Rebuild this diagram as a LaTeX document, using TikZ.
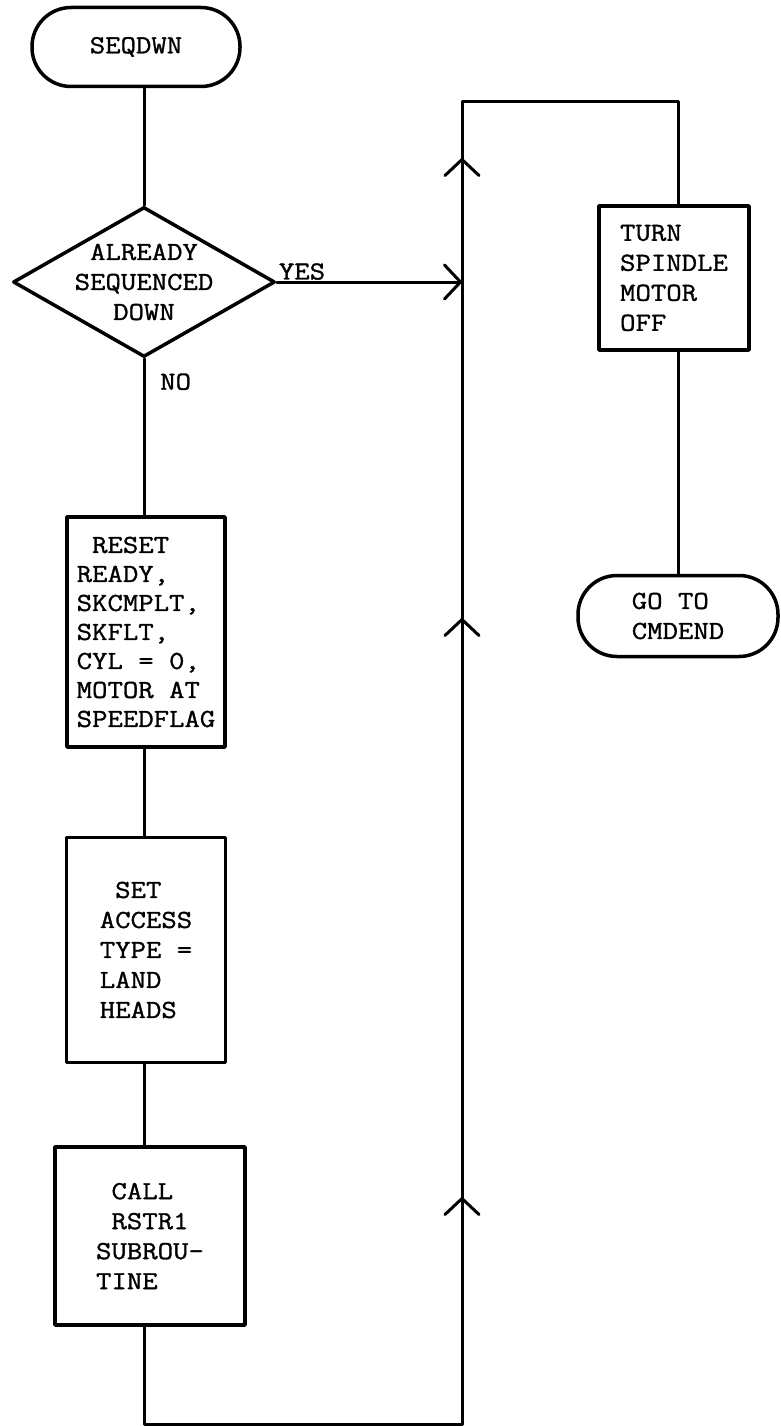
\documentclass[tikz,border=0pt]{standalone}
\usepackage{fontspec}
\newfontfamily\flowfont{Latin Modern Mono}[FakeStretch=1.15, FakeBold=1.2]
\usetikzlibrary{shapes.geometric,arrows.meta}

\tikzset{
  flowline/.style={line width=3pt, line cap=round, line join=round},
  flowtip/.style={flowline, -{Straight Barb[length=16pt,width=34pt,round]}},
  box/.style={draw, line width=3.5pt, line join=round, inner sep=0pt, align=left,
    font=\flowfont\fontsize{26}{30}\selectfont},
  terminal/.style={box, rounded corners=39pt},
  decision/.style={box, diamond, inner xsep=-40pt, inner ysep=-30pt, align=center},
  flowlabel/.style={font=\flowfont\fontsize{26}{30}\selectfont, inner sep=2pt}
}

\begin{document}
\begin{tikzpicture}[x=1pt,y=-1pt]
  \useasboundingbox (0,0) rectangle (780,1426);
  % left column
  \node[terminal, minimum width=208pt, minimum height=79pt] (seqdwn) at (136,47) {SEQDWN};
  \node[decision, minimum width=262pt, minimum height=150pt] (already) at (144,282) {ALREADY\\SEQUENCED\\DOWN};
  \node[box, minimum width=158pt, minimum height=230pt, font=\flowfont\fontsize{26}{29}\selectfont] (reset) at (146,632)
    {\hphantom{X}RESET\\READY,\\SKCMPLT,\\SKFLT,\\CYL = 0,\\MOTOR AT\\SPEEDFLAG};
  \node[box, minimum width=159pt, minimum height=225pt] (setacc) at (146,950)
    {\hphantom{X}SET\\ACCESS\\TYPE =\\LAND\\HEADS};
  \node[box, minimum width=190pt, minimum height=178pt] (callrst) at (150,1236)
    {\hphantom{X}CALL\\\hphantom{X}RSTR1\\SUBROU-\\TINE};
  % right column
  \node[box, minimum width=150pt, minimum height=144pt] (turnoff) at (674,278)
    {TURN\\SPINDLE\\MOTOR\\OFF};
  \node[terminal, minimum width=200pt, minimum height=81pt] (cmdend) at (678,616)
    {GO TO\\CMDEND};
  % return loop
  \coordinate (bend1) at (462,1424);
  \coordinate (bend2) at (462,102);
  \coordinate (bend3) at (678,102);
  \coordinate (chevlow) at (462,1197);
  \coordinate (chevmid) at (462,618);
  \coordinate (chevtop) at (462,158);

  \draw[flowline] (seqdwn.south -| already.north) -- (already.north);
  \draw[flowline] (already.south) -- (already.south |- reset.north);
  \draw[flowline] (reset.south -| already.south) -- (already.south |- setacc.north);
  \draw[flowline] (setacc.south -| already.south) -- (already.south |- callrst.north);
  \draw[flowline] (callrst.south -| already.south) |- (bend1) -- (bend2) -- (bend3) -- (bend3 |- turnoff.north);
  \draw[flowline] (turnoff.south -| bend3) -- (bend3 |- cmdend.north);
  \draw[flowtip] (bend1) -- (chevlow);
  \draw[flowtip] (chevlow) -- (chevmid);
  \draw[flowtip] (chevmid) -- (chevtop);
  \draw[flowtip] (already.east) -- (already.east -| bend2);
  \node[flowlabel, anchor=south west] (yes) at (already.east) {YES};
  \node[flowlabel, anchor=west] (no) at ([xshift=14pt,yshift=-23pt]already.south) {NO};
\end{tikzpicture}
\end{document}
